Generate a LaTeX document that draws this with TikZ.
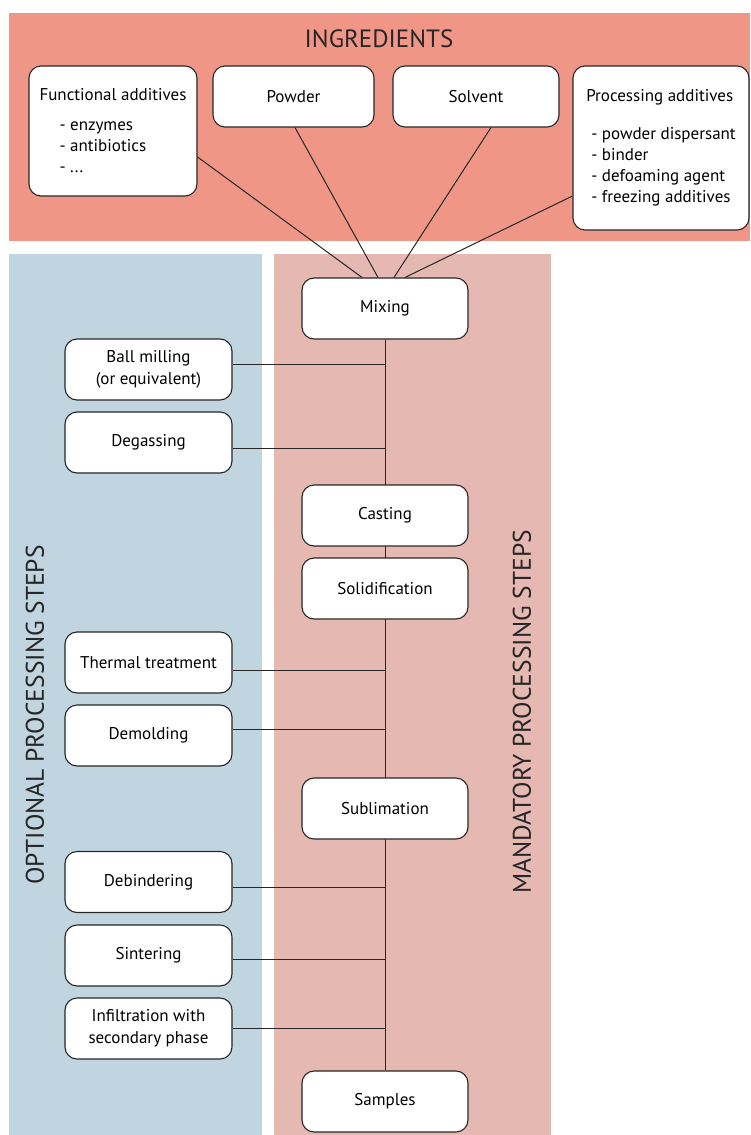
\documentclass[tikz,border=0pt]{standalone}
\usepackage{fontspec}
\setmainfont{PT Sans}
\usetikzlibrary{calc}
\pgfdeclarelayer{panels}
\pgfdeclarelayer{lines}
\pgfsetlayers{panels,lines,main}
\definecolor{ingr}{RGB}{239,150,134}
\definecolor{optc}{RGB}{193,213,224}
\definecolor{mandc}{RGB}{229,185,178}
\tikzset{
  box/.style={draw=black!85, fill=white, rounded corners=12pt, line width=1.1pt,
    minimum width=166pt, minimum height=61pt, inner sep=0pt, align=center,
    font=\fontsize{17}{22}\selectfont},
  conn/.style={draw=black!85, line width=1pt},
  paneltitle/.style={font=\fontsize{25.5}{30}\selectfont, text=black!85}
}
\begin{document}
\begin{tikzpicture}[x=1pt,y=-1pt]
\useasboundingbox (0,0) rectangle (750,1135);
\begin{pgfonlayer}{panels}
\fill[white] (0,0) rectangle (750,1135);
\fill[ingr] (9,13) rectangle (750,241);
\fill[optc] (9,254) rectangle (262,1135);
\fill[mandc] (274,254) rectangle (551,1135);
\end{pgfonlayer}

\node[paneltitle, font=\fontsize{25}{30}\selectfont] (ingt) at (379,39) {INGREDIENTS};
\node[paneltitle, rotate=90] (optt) at (35,715) {OPTIONAL PROCESSING STEPS};
\node[paneltitle, rotate=90] (mant) at (522,712) {MANDATORY PROCESSING STEPS};

% ingredient boxes
\node[box, minimum width=168pt, minimum height=130pt, align=left,
  font=\fontsize{17}{21}\selectfont] (fa) at (113,131)
  {Functional additives\\[9pt]\hspace*{20pt}- enzymes\\\hspace*{20pt}- antibiotics\\\hspace*{20pt}- ...};
\node[box, minimum width=161pt] (pw) at (293.5,96.5) {Powder};
\node[box] (sv) at (476,96.5) {Solvent};
\node[box, minimum width=176pt, minimum height=164pt, align=left,
  font=\fontsize{17}{21}\selectfont] (pa) at (661,148)
  {Processing additives\\[17pt]\hspace*{5pt}- powder dispersant\\\hspace*{5pt}- binder\\\hspace*{5pt}- defoaming agent\\\hspace*{5pt}- freezing additives};

% mandatory steps
\node[box] (mix) at (385,308.5) {Mixing};
\node[box] (cast) at (385,515.5) {Casting};
\node[box] (sol) at (385,588.5) {Solidification};
\node[box] (sub) at (385,808.5) {Sublimation};
\node[box] (smp) at (385,1101.5) {Samples};

% optional steps
\node[box, minimum width=167pt] (bm) at (148.5,369.5) {Ball milling\\(or equivalent)};
\node[box, minimum width=167pt] (dg) at (148.5,442.5) {Degassing};
\node[box, minimum width=167pt] (tt) at (148.5,662.5) {Thermal treatment};
\node[box, minimum width=167pt] (dm) at (148.5,735.5) {Demolding};
\node[box, minimum width=167pt] (db) at (148.5,882) {Debindering};
\node[box, minimum width=167pt] (si) at (148.5,955.5) {Sintering};
\node[box, minimum width=167pt] (inf) at (148.5,1028.5) {Infiltration with\\secondary phase};

\begin{pgfonlayer}{lines}
% ingredient connectors
\draw[conn] ([yshift=-26pt]fa.east) -- ([xshift=-23pt]mix.north);
\draw[conn] ([xshift=1.5pt]pw.south) -- ([xshift=-7pt]mix.north);
\draw[conn] ([xshift=15pt]sv.south) -- ([xshift=9pt]mix.north);
\draw[conn] ([yshift=-48pt]pa.west) -- ([xshift=20pt]mix.north);
% main line
\draw[conn] (mix.south) -- (smp.north);
% optional connectors
\draw[conn] ([yshift=5.5pt]bm.east) coordinate (c1) -- (c1 -| mix.south);
\draw[conn] ([yshift=-5.5pt]dg.east) coordinate (c2) -- (c2 -| mix.south);
\draw[conn] ([yshift=-7.5pt]tt.east) coordinate (c3) -- (c3 -| mix.south);
\draw[conn] ([yshift=6.5pt]dm.east) coordinate (c4) -- (c4 -| mix.south);
\draw[conn] ([yshift=-5pt]db.east) coordinate (c5) -- (c5 -| mix.south);
\draw[conn] ([yshift=-4pt]si.east) coordinate (c6) -- (c6 -| mix.south);
\draw[conn] (inf.east) coordinate (c7) -- (c7 -| mix.south);
\end{pgfonlayer}
\end{tikzpicture}
\end{document}
